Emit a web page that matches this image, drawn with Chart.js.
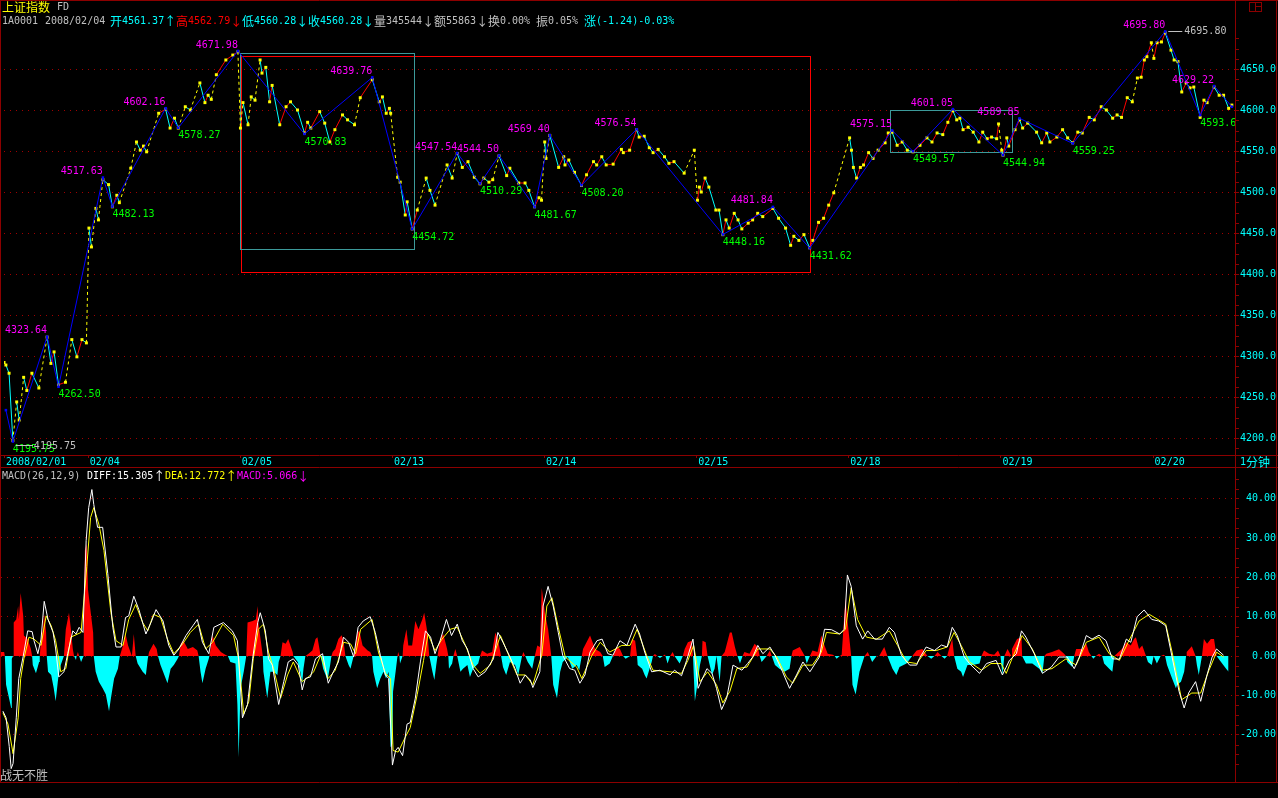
<!DOCTYPE html>
<html lang="zh-CN">
<head>
<meta charset="utf-8">
<title>上证指数 1分钟 FD / MACD</title>
<script src="https://cdn.jsdelivr.net/npm/chart.js@4.4.1/dist/chart.umd.min.js"></script>
<style>
  html, body { margin: 0; padding: 0; background: #000; overflow: hidden; }
  #stage { position: relative; width: 1278px; height: 798px; background: #000; }
  canvas { position: absolute; left: 0; }
  #cMain { top: 0; }
  #cMacd { top: 468px; }
  .t { position: absolute; display: flex; align-items: center; height: 14px; white-space: pre;
       font: 10px "DejaVu Sans Mono", monospace; line-height: 12px; }
  .t.s { height: 13px; }
  .cjk { font-family: "Noto Sans CJK SC", sans-serif; font-size: 12px; line-height: 12px; }
  .gray { color: #c0c0c0; } .cyan { color: #00ffff; } .red { color: #ff0000; }
  .yel { color: #ffff00; } .wht { color: #ffffff; } .mag { color: #ff00ff; }
  #icon { position: absolute; left: 1249px; top: 2px; width: 11px; height: 8px; border: 1px solid #8c0000; }
  #icon:before { content: ""; position: absolute; left: 5px; top: 0; width: 1px; height: 8px; background: #8c0000; }
  #icon:after { content: ""; position: absolute; left: 5px; top: 3px; width: 6px; height: 1px; background: #8c0000; }
</style>
</head>
<body>
<div id="stage">
  <canvas id="cMain" width="1278" height="468"></canvas>
  <canvas id="cMacd" width="1278" height="330"></canvas>

  <!-- header -->
  <div class="t yel" style="left:2px;top:0px;"><span class="cjk">上证指数</span></div>
  <div class="t gray" style="left:57px;top:0px;">FD</div>
  <div class="t gray" style="left:2px;top:14px;">1A0001</div>
  <div class="t gray" style="left:45px;top:14px;">2008/02/04</div>
  <div class="t cyan" style="left:110px;top:14px;"><span class="cjk">开</span>4561.37<span class="cjk">↑</span></div>
  <div class="t red" style="left:176px;top:14px;"><span class="cjk">高</span>4562.79<span class="cjk">↓</span></div>
  <div class="t cyan" style="left:242px;top:14px;"><span class="cjk">低</span>4560.28<span class="cjk">↓</span></div>
  <div class="t cyan" style="left:308px;top:14px;"><span class="cjk">收</span>4560.28<span class="cjk">↓</span></div>
  <div class="t gray" style="left:374px;top:14px;"><span class="cjk">量</span>345544<span class="cjk">↓</span></div>
  <div class="t gray" style="left:434px;top:14px;"><span class="cjk">额</span>55863<span class="cjk">↓</span></div>
  <div class="t gray" style="left:488px;top:14px;"><span class="cjk">换</span>0.00%</div>
  <div class="t gray" style="left:536px;top:14px;"><span class="cjk">振</span>0.05%</div>
  <div class="t cyan" style="left:584px;top:14px;"><span class="cjk">涨</span>(-1.24)-0.03%</div>
  <div id="icon"></div>

  <div class="t s cyan" style="left:1240px;top:455px;">1<span class="cjk">分钟</span></div>

  <!-- MACD header -->
  <div class="t s gray" style="left:2px;top:469px;">MACD(26,12,9)</div>
  <div class="t s wht" style="left:87px;top:469px;">DIFF:15.305<span class="cjk">↑</span></div>
  <div class="t s yel" style="left:165px;top:469px;">DEA:12.772<span class="cjk">↑</span></div>
  <div class="t s mag" style="left:237px;top:469px;">MACD:5.066<span class="cjk">↓</span></div>

  <div class="t gray" style="left:0px;top:768px;"><span class="cjk">战无不胜</span></div>
</div>

<script>
// ---------------------------------------------------------
// data (x = 1-minute bar index, 240 bars per trading day)
// ---------------------------------------------------------
const T_MAX = 1942;
const dayStart = [0, 132, 372, 612, 852, 1092, 1332, 1572, 1812];
const dayLabel = ['2008/02/01', '02/04', '02/05', '02/13', '02/14', '02/15', '02/18', '02/19', '02/20'];

const priceTicks = [4200, 4250, 4300, 4350, 4400, 4450, 4500, 4550, 4600, 4650];
const macdTicks = [-20, -10, 0, 10, 20, 30, 40];

// FD price line
const priceT = [0,3,8,14,20,24,31,36,44,55,68,74,79,86,97,107,115,123,130,134,
  138,145,149,156,165,171,178,182,200,209,215,220,225,244,255,262,269,275,286,294,
  309,317,322,327,335,350,361,369,373,377,385,390,396,404,407,413,419,423,435,445,
  452,463,474,479,484,498,506,514,522,534,542,553,562,581,592,597,603,608,610,621,
  625,633,636,644,652,666,672,680,699,707,715,723,732,742,751,757,765,771,781,793,
  798,812,822,828,837,844,848,853,855,861,875,883,885,891,900,911,919,930,935,943,
  950,961,974,977,987,998,1002,1010,1018,1024,1032,1042,1049,1057,1073,1089,1094,1097,1100,1106,
  1112,1123,1128,1134,1139,1144,1152,1158,1164,1174,1181,1189,1197,1213,1222,1233,1241,1246,1254,1262,
  1271,1276,1285,1293,1301,1309,1334,1337,1340,1345,1351,1356,1364,1371,1379,1390,1395,1401,1409,1417,
  1425,1434,1445,1456,1464,1472,1481,1489,1497,1503,1508,1513,1521,1529,1538,1544,1551,1558,1566,1569,
  1574,1576,1582,1585,1595,1602,1607,1615,1629,1637,1645,1650,1661,1670,1678,1686,1694,1701,1712,1720,
  1731,1739,1749,1756,1763,1772,1780,1788,1794,1799,1803,1810,1814,1819,1826,1832,1841,1846,1852,1858,
  1865,1871,1877,1887,1893,1898,1909,1917,1924,1932,1937];
const priceV = [4292,4289,4279,4197,4244,4222,4274,4258,4279,4261,4323,4291,4305,4265,4268,4320,4299,4320,4316,4456,
  4433,4480,4466,4515,4509,4482,4496,4487,4529,4561,4551,4556,4549,4596,4601,4578,4590,4578,4604,4600,
  4633,4609,4618,4613,4643,4661,4667,4671,4578,4609,4582,4616,4612,4661,4645,4652,4610,4630,4582,4604,
  4610,4600,4572,4585,4578,4598,4584,4561,4576,4594,4588,4582,4615,4637,4610,4616,4596,4602,4596,4518,
  4512,4472,4488,4455,4478,4517,4502,4484,4533,4517,4547,4530,4537,4518,4510,4517,4512,4515,4544,4520,
  4529,4511,4511,4502,4482,4493,4490,4561,4541,4569,4530,4543,4533,4539,4524,4508,4521,4537,4533,4543,
  4533,4534,4552,4548,4551,4576,4567,4568,4554,4548,4552,4543,4535,4537,4523,4551,4490,4506,4500,4517,
  4506,4478,4478,4448,4466,4456,4474,4466,4455,4462,4466,4474,4470,4480,4468,4456,4435,4446,4441,4448,
  4432,4441,4463,4468,4484,4499,4566,4551,4530,4517,4530,4533,4548,4541,4551,4560,4572,4573,4557,4561,
  4551,4549,4557,4566,4561,4572,4570,4585,4599,4588,4590,4576,4579,4573,4561,4573,4565,4567,4565,4583,
  4551,4545,4566,4556,4576,4588,4578,4584,4573,4560,4572,4561,4567,4576,4566,4560,4573,4572,4591,4588,
  4604,4600,4590,4594,4591,4615,4610,4639,4640,4661,4665,4682,4663,4682,4683,4694,4673,4661,4659,4622,
  4633,4627,4628,4591,4612,4609,4628,4618,4618,4602,4606];

// zigzag turning points
const zigT = [3,14,68,86,156,171,255,275,369,474,581,644,715,751,781,837,861,911,998,1134,
  1213,1271,1401,1434,1497,1576,1602,1686,1832,1887,1909,1937];
const zigV = [4234,4195.75,4323.64,4262.50,4517.63,4482.13,4602.16,4578.27,4671.98,4570.83,
  4639.76,4454.72,4547.54,4510.29,4544.50,4481.67,4569.40,4508.20,4576.54,4448.16,
  4481.84,4431.62,4575.15,4549.57,4601.05,4544.94,4589.85,4559.25,4695.80,4593.63,4629.22,4604];

// drawn boxes (time range, price range)
const boxFrom = [374, 372, 1397];
const boxTo = [1271, 647, 1590];
const boxHigh = [4665.8, 4669.5, 4600.0];
const boxLow = [4402.4, 4430.5, 4548.8];

// MACD(26,12,9)
const diffLine = [[3,-14],[8,-15.7],[13,-23],[16,-28.6],[19,-27.3],[24,-15.7],[28,-5.7],[35,0],[42,6.4],[49,6.2],
  [52,3.9],[58,0.6],[63,4.3],[68,13.9],[74,9.3],[82,6],[86,1.8],[91,-5.3],[99,-4],[105,0.6],
  [113,6.4],[118,5.6],[123,7.3],[129,6],[134,29.3],[138,37.7],[143,42.3],[146,38.5],[152,32.7],[160,32.7],
  [168,21],[176,7.3],[181,2.3],[189,2.3],[196,9.8],[201,10.2],[209,15.2],[217,11.8],[228,5.6],[236,8.5],
  [244,11.8],[255,8.9],[264,2.7],[272,0.2],[280,1.8],[291,5.2],[302,7.7],[309,9.3],[317,3.5],[327,0.6],
  [335,7.3],[350,8.5],[364,6.4],[372,3.9],[380,-15.7],[388,-12.3],[396,-0.7],[404,8.5],[408,11],[416,6.4],
  [421,-0.7],[427,-2.3],[437,-12.3],[445,-6.5],[452,-1.5],[460,-0.7],[468,-2.3],[474,-8.6],[479,-5.7],[487,-5.3],
  [495,-0.7],[506,0.6],[515,-6.9],[523,-4],[531,-1.5],[539,4.8],[547,3.5],[555,-0.25],[562,7.3],[570,8.9],
  [581,10],[589,6],[597,0.2],[605,-4.8],[610,-5.7],[616,-27.7],[621,-24],[625,-23.2],[632,-25.3],[639,-17.3],
  [644,-16.9],[652,-10.7],[660,-1.5],[668,6.4],[676,4.8],[683,0.6],[691,3.9],[701,9.3],[709,5.2],[718,8.1],
  [726,3.9],[734,1.8],[743,-3.2],[751,-5.3],[762,-4],[775,-0.7],[782,6],[790,3.5],[801,-0.25],[809,-3.2],
  [817,-6.9],[825,-4.8],[833,-6.1],[837,-8],[848,-4],[853,12.7],[861,17.7],[869,12.7],[877,6],[884,0.2],
  [895,-3.2],[903,-3.6],[911,-6.9],[919,-4.8],[927,1],[938,3.9],[946,4.3],[955,0.6],[963,0.2],[974,3.9],
  [985,2.7],[998,8.1],[1005,5.6],[1013,1],[1024,-4],[1037,-3.6],[1053,-4.8],[1060,-3.6],[1071,-5],[1079,-1.1],
  [1089,4.3],[1097,-8.2],[1111,-3.2],[1119,-4.4],[1126,-8.2],[1134,-13.6],[1142,-10.7],[1152,-2.3],[1166,-3.6],[1175,-1.9],
  [1183,-0.25],[1191,2.7],[1199,0.6],[1210,2.3],[1218,0.2],[1230,-4],[1241,-8.2],[1252,-4.8],[1262,-1.5],[1273,-4],
  [1288,-0.25],[1296,6.8],[1307,6.7],[1320,5.6],[1327,6.8],[1332,20.6],[1338,17.7],[1346,7.7],[1356,4.3],[1364,6.4],
  [1375,4.3],[1387,4.3],[1398,7.3],[1406,6],[1417,0.2],[1430,-2.3],[1441,-2.3],[1445,-0.7],[1456,2.3],[1469,1.4],
  [1480,2.8],[1489,2.3],[1497,7.3],[1505,5.2],[1516,-0.25],[1524,-1.9],[1540,-4.4],[1551,-1.9],[1566,-1.1],[1576,-4.8],
  [1587,-1.1],[1598,0.6],[1606,6.4],[1613,4.8],[1626,0.6],[1639,-4.4],[1653,-2.8],[1665,-0.25],[1678,-0.25],[1689,-3.2],
  [1697,-0.25],[1708,5.2],[1717,4.3],[1728,5.3],[1739,3.9],[1749,-0.7],[1760,-0.8],[1771,4.3],[1778,3.5],[1788,10],
  [1799,11.7],[1811,9.3],[1822,8.9],[1833,7.7],[1843,-0.25],[1854,-9],[1862,-13.2],[1869,-9.4],[1880,-6.5],[1888,-11.5],
  [1898,-4.8],[1906,-0.25],[1913,1.8],[1924,0.2]];

const deaLine = [[3,-14.4],[11,-17.3],[19,-24.8],[27,-15.7],[31,-5.7],[36,-0.7],[44,4.8],[52,4.3],[63,2.7],[71,10.2],
  [79,7.7],[86,3.9],[94,-4],[102,-3.2],[110,4.8],[126,6],[135,22.7],[141,35.2],[146,37.7],[154,33.5],
  [162,26.8],[173,11],[181,3.9],[192,2.7],[201,9.3],[212,13.1],[223,8.5],[231,6.4],[240,10.6],[251,9.8],
  [262,4.3],[272,0.6],[286,3.1],[298,6],[311,8.1],[322,1.8],[333,3.5],[349,8.1],[366,5.2],[374,-0.7],
  [382,-14.8],[390,-11.5],[397,-0.7],[405,6.8],[413,8.1],[421,1],[429,-3.2],[440,-10.7],[451,-4.8],[460,-1.5],
  [474,-6.5],[484,-5.3],[492,-4],[503,0.2],[515,-5.7],[526,-3.6],[539,3.5],[550,3.1],[558,0.6],[566,6.8],
  [584,9.3],[594,1],[605,-4.4],[613,-5.7],[617,-24],[625,-24.4],[636,-20.7],[644,-18.2],[655,-9.8],[665,-1.1],
  [672,5.6],[683,1.4],[694,4.3],[707,6.8],[718,7.3],[731,2.7],[743,-2.3],[754,-4.4],[770,-2.3],[786,5.2],
  [798,0.6],[812,-4.8],[825,-4.8],[837,-7.3],[851,0.2],[859,12.7],[867,14.8],[877,7.3],[888,-0.25],[906,-2.8],
  [914,-5.7],[930,0.2],[943,3.5],[958,1],[977,2.7],[990,2.7],[1001,6.8],[1016,0.2],[1026,-3.6],[1053,-4],
  [1071,-4.4],[1081,-1.1],[1090,2.7],[1100,-6.5],[1112,-4],[1126,-7.3],[1136,-11.9],[1147,-9],[1158,-3.2],[1174,-2.8],
  [1191,1.8],[1210,1.8],[1221,-0.25],[1236,-5.3],[1246,-6.9],[1262,-2.3],[1277,-2.3],[1291,1],[1299,6],[1320,5.6],
  [1329,6.8],[1338,17.3],[1348,9.3],[1362,4.8],[1378,4.3],[1398,6.4],[1411,2.7],[1425,-1.5],[1441,-1.9],[1456,1.4],
  [1472,1.4],[1489,2.3],[1500,6],[1511,2.7],[1524,-1.5],[1543,-3.6],[1558,-1.9],[1574,-1.9],[1582,-4.4],[1591,-0.7],
  [1607,5.2],[1623,1.8],[1639,-3.6],[1654,-3.2],[1676,-0.7],[1692,-2.3],[1708,3.5],[1728,4.8],[1744,0.6],[1760,-1.1],
  [1775,3.9],[1791,8.9],[1807,10.6],[1833,8.1],[1843,1],[1858,-11.1],[1874,-9.4],[1888,-9.4],[1901,-3.6],[1913,1],
  [1924,-0.25]];

const macdHist = [[0,1],[5,1],[6,0],[8,-7.3],[13,-11],[16,-13.2],[17,-0.7],[19,0],[20,8.5],[24,9.3],
  [27,12.7],[28,9.3],[31,16],[35,10.2],[36,5.2],[42,4.3],[47,1.8],[49,0],[50,-2.3],[55,-4.4],
  [60,-1.5],[61,0],[63,4.3],[66,6.8],[68,10.6],[71,6],[72,0],[74,-4],[79,-4.8],[83,-8.2],
  [86,-11.5],[90,-5.7],[94,-2.3],[99,0],[102,6.8],[107,11],[110,6.8],[113,1.8],[115,0],[118,-1],
  [119,0],[121,1],[123,0],[126,-1.5],[130,0],[132,26.8],[135,28.5],[137,16.8],[140,12.7],[145,6],
  [146,0],[149,-4],[154,-6.5],[160,-8.2],[165,-9.8],[170,-14],[173,-10.7],[178,-5.7],[184,-3.2],[187,0],
  [192,2.7],[196,5.6],[200,2.7],[206,0],[209,5.6],[212,0],[215,-1.9],[223,-4],[228,-4.8],[231,-0.7],
  [233,1],[240,3.1],[245,1.8],[247,0],[251,-2.3],[256,-4.4],[262,-6.9],[267,-3.2],[272,-2.3],[278,-0.7],
  [280,0],[283,3.1],[287,3.9],[294,1.8],[302,2.3],[309,1.4],[311,0],[314,-4],[317,-6.9],[322,-3.2],
  [327,-0.7],[328,0],[333,5.2],[338,2.7],[346,1],[353,0.3],[357,0],[361,-1.5],[369,-1.9],[372,-12.3],
  [374,-25.7],[377,-8.2],[382,-4],[386,0],[388,8.5],[396,8.9],[401,9.3],[404,12.7],[405,8.5],[412,0],
  [413,-4],[419,-10.7],[424,-4],[429,-4],[435,-4.8],[437,-1.5],[440,0],[443,3.5],[448,3.1],[452,4.3],
  [459,1],[460,0],[467,-1.5],[471,-4],[474,-6.9],[476,-3.2],[479,0],[484,0.6],[490,1.4],[495,4.3],
  [498,4.8],[501,2],[503,0],[507,-3.2],[514,-6.1],[518,-2.3],[520,0],[522,1],[526,1.8],[531,4.3],
  [536,5.3],[539,3.9],[542,0],[547,-2.3],[550,-3.2],[555,0],[561,6],[564,6.4],[569,2.7],[577,1.4],
  [581,1],[584,0],[586,-4],[592,-8.2],[597,-5.7],[602,-4],[606,-5.7],[610,-4],[613,-23.2],[616,-22.3],
  [617,-9],[621,-4],[624,0],[625,1],[627,0],[628,-1.9],[632,0],[633,2.7],[638,6.8],[641,2.7],
  [647,2.7],[652,8.9],[657,6.8],[663,9.3],[666,11],[671,6],[674,0],[679,-4],[682,-6.1],[685,-2.3],
  [687,0],[691,4.3],[696,5.6],[702,1.8],[704,0],[705,-3.2],[710,-1.9],[712,0],[715,1.8],[718,0],
  [723,-4],[727,-3.2],[734,-2.3],[738,-5.3],[743,-3.2],[751,-1.9],[754,0],[757,1.4],[765,0.6],[773,1],
  [778,6],[782,4.3],[787,0],[790,-2.8],[795,-4.8],[801,-1.5],[809,-2.3],[814,-4.8],[820,0],[822,1],
  [825,0],[829,-1.5],[836,-3.2],[840,0],[844,2.7],[848,2.3],[851,17.3],[856,11],[861,6.8],[866,0],
  [869,-7.3],[875,-10.7],[880,-4],[884,-1.5],[892,-0.25],[899,-3.2],[906,-2.3],[910,-3.6],[914,0],[916,1.8],
  [927,5.2],[935,1.8],[943,1],[947,0],[950,-2.8],[958,-1.9],[963,0],[969,2.3],[974,1.8],[979,0],
  [983,-0.7],[990,0],[993,4.3],[998,3.9],[1001,0],[1002,-2.3],[1009,-3.2],[1013,-4.8],[1016,-5.7],[1024,-1.5],
  [1026,0],[1029,0.5],[1037,-0.5],[1045,0.4],[1049,-1.9],[1053,0],[1057,1],[1060,0],[1068,-1.9],[1073,0],
  [1076,1.8],[1081,3.5],[1087,3.9],[1089,0],[1092,-11.5],[1095,-8.2],[1100,-2.3],[1103,0],[1104,3.9],[1109,3.5],
  [1112,0],[1119,-4.8],[1123,-3.2],[1126,0],[1131,-6.5],[1134,0],[1139,1],[1147,6],[1150,6],[1155,2.3],
  [1159,0],[1163,-1.9],[1167,0],[1170,1],[1178,0.6],[1186,3.1],[1191,2.3],[1194,0],[1197,-1.5],[1205,0],
  [1210,1.4],[1213,0],[1218,-2.3],[1225,-3.2],[1233,-4],[1241,-3.2],[1244,0],[1246,1.4],[1257,2.3],[1265,0],
  [1268,-1.9],[1273,0],[1277,1.4],[1285,1],[1291,5.2],[1296,2.7],[1301,0.6],[1309,0.3],[1312,0],[1315,-0.7],
  [1320,0],[1323,0.3],[1329,14.8],[1332,9.3],[1338,0],[1340,-7.3],[1345,-9.8],[1351,-4],[1359,0],[1364,1],
  [1367,0],[1371,-1.5],[1378,0],[1382,0],[1390,2.3],[1395,0],[1403,-3.2],[1409,-4.8],[1414,-2.8],[1425,-1.9],
  [1434,0],[1441,1.4],[1450,1.8],[1458,0],[1464,-0.7],[1469,0],[1474,1],[1480,0],[1485,-0.7],[1489,0],
  [1492,1.8],[1497,4.3],[1500,0],[1505,-3.2],[1511,-4],[1514,-5.3],[1521,-2.3],[1529,-2.3],[1540,-1.9],[1543,0],
  [1547,1.4],[1555,0.6],[1563,0.3],[1569,1.4],[1573,0],[1576,-4.8],[1579,0],[1584,1.8],[1590,0],[1591,1.8],
  [1599,4.3],[1606,4.8],[1607,0],[1613,-1.9],[1623,-1.9],[1634,-3.2],[1639,-4.4],[1642,0],[1645,0.6],[1654,1],
  [1665,1.7],[1673,0.6],[1676,0],[1678,-1.5],[1686,-2.8],[1689,0],[1692,1.8],[1701,1.8],[1708,3.1],[1712,1],
  [1716,0],[1719,-0.7],[1723,0],[1728,0.6],[1733,0],[1736,-1.9],[1744,-3.2],[1749,-4],[1752,0],[1764,1.8],
  [1771,3.5],[1778,2.7],[1783,4.3],[1786,4.8],[1791,1.8],[1796,2.7],[1802,0],[1805,-1.5],[1811,-2.3],[1814,0],
  [1819,-1.9],[1825,0],[1830,0.3],[1832,0],[1835,-2.3],[1843,-5.7],[1849,-8.2],[1851,-7.3],[1857,-6.5],[1862,-4],
  [1865,0],[1866,1],[1874,2.5],[1880,0],[1882,-2.3],[1885,-4.8],[1890,0],[1893,4.3],[1898,3.1],[1904,4.3],
  [1909,4.3],[1913,0],[1920,-1.5],[1928,-3.2],[1932,-4]];

// ---------------------------------------------------------
// style
// ---------------------------------------------------------
const C = {
  frame: '#8c0000', grid: '#a00000', cyan: '#00ffff', red: '#ff0000', yellow: '#ffff00',
  blue: '#0000ff', magenta: '#ff00ff', green: '#00ff00', gray: '#c0c0c0', teal: '#3c9a9a', white: '#ffffff'
};
const MONO = '"DejaVu Sans Mono", "Liberation Mono", monospace';
const zip = (ts, vs) => ts.map((t, i) => ({ x: t, y: vs[i] }));
const pairs = arr => arr.map(p => ({ x: p[0], y: p[1] }));

function hline(ctx, x0, x1, y) { ctx.beginPath(); ctx.moveTo(x0, y); ctx.lineTo(x1, y); ctx.stroke(); }
function vline(ctx, x, y0, y1) { ctx.beginPath(); ctx.moveTo(x, y0); ctx.lineTo(x, y1); ctx.stroke(); }

function crossesDay(c) {
  const a = c.p0.parsed.x, b = c.p1.parsed.x;
  return dayStart.some(d => d > 0 && a < d && b >= d);
}
function isJump(c) {
  return crossesDay(c) || (c.p1.parsed.y - c.p0.parsed.y) > 25;
}

function minorTicks(ctx, scale, x, step, from, to, major) {
  ctx.strokeStyle = C.frame;
  for (let v = from; v <= to; v += step) {
    if (Math.abs(v / major - Math.round(v / major)) < 1e-6) continue;
    const y = Math.round(scale.getPixelForValue(v)) + 0.5;
    hline(ctx, x, x + 3, y);
  }
}

// ---------------------------------------------------------
// decorations for the price panel
// ---------------------------------------------------------
const mainDecor = {
  id: 'mainDecor',
  beforeDatasetsDraw(chart) {
    const { ctx, scales: { x, y } } = chart;
    ctx.save();
    ctx.lineWidth = 1;
    boxFrom.forEach((t0, i) => {
      const x0 = Math.round(x.getPixelForValue(t0)) + 0.5, x1 = Math.round(x.getPixelForValue(boxTo[i])) + 0.5;
      const y0 = Math.round(y.getPixelForValue(boxHigh[i])) + 0.5, y1 = Math.round(y.getPixelForValue(boxLow[i])) + 0.5;
      ctx.strokeStyle = i === 0 ? C.red : C.teal;
      ctx.strokeRect(x0, y0, x1 - x0, y1 - y0);
    });
    ctx.restore();
  },
  afterDatasetsDraw(chart) {
    const { ctx, chartArea: a, scales: { x, y } } = chart;
    ctx.save();
    ctx.beginPath(); ctx.rect(a.left, 0, a.right - a.left, a.bottom); ctx.clip();
    ctx.font = '10px ' + MONO;
    for (let i = 1; i < zigT.length - 1; i++) {
      const px = x.getPixelForValue(zigT[i]), py = y.getPixelForValue(zigV[i]);
      const txt = zigV[i].toFixed(2);
      if (zigV[i] > zigV[i - 1]) {
        ctx.fillStyle = C.magenta; ctx.textAlign = 'right'; ctx.textBaseline = 'bottom';
        ctx.fillText(txt, px, py - 1);
      } else {
        ctx.fillStyle = C.green; ctx.textAlign = 'left'; ctx.textBaseline = 'top';
        ctx.fillText(txt, px, py + 3);
      }
    }
    // extreme markers
    const hi = zigV.indexOf(Math.max(...zigV)), lo = zigV.indexOf(Math.min(...zigV));
    ctx.strokeStyle = C.gray; ctx.fillStyle = C.gray; ctx.lineWidth = 1;
    ctx.textAlign = 'left'; ctx.textBaseline = 'middle';
    let px = x.getPixelForValue(zigT[hi]), py = Math.round(y.getPixelForValue(zigV[hi])) + 0.5;
    hline(ctx, px + 3, px + 17, py); ctx.fillText(zigV[hi].toFixed(2), px + 19, py);
    px = x.getPixelForValue(zigT[lo]); py = Math.round(y.getPixelForValue(zigV[lo])) + 3.5;
    hline(ctx, px + 3, px + 20, py); ctx.fillText(zigV[lo].toFixed(2), px + 21, py + 1);
    ctx.restore();
  },
  afterDraw(chart) {
    const { ctx, chartArea: a, scales: { x, y }, width, height } = chart;
    ctx.save();
    ctx.strokeStyle = C.frame; ctx.lineWidth = 1;
    hline(ctx, 0, width, 0.5);
    vline(ctx, 0.5, 0, height);
    vline(ctx, width - 1.5, 0, height);
    vline(ctx, a.right + 0.5, 0, height);
    hline(ctx, 0, width, a.bottom + 0.5);
    hline(ctx, 0, width, height - 0.5);
    dayStart.forEach(d => { const px = Math.round(x.getPixelForValue(d)) + 0.5; vline(ctx, px, a.bottom, a.bottom + 3); });
    minorTicks(ctx, y, a.right + 1, 12.5, 4187.5, 4700, 50);
    ctx.restore();
  }
};

const macdDecor = {
  id: 'macdDecor',
  afterDraw(chart) {
    const { ctx, chartArea: a, scales: { y }, width } = chart;
    ctx.save();
    ctx.strokeStyle = C.frame; ctx.lineWidth = 1;
    vline(ctx, 0.5, 0, a.bottom);
    vline(ctx, width - 1.5, 0, a.bottom);
    vline(ctx, a.right + 0.5, 0, a.bottom);
    hline(ctx, 0, width, a.bottom + 0.5);
    minorTicks(ctx, y, a.right + 1, 2.5, -30, 45, 10);
    ctx.restore();
  }
};

function rightAxis(min, max, ticks, digits) {
  return {
    position: 'right', min: min, max: max,
    afterBuildTicks: s => { s.ticks = ticks.map(v => ({ value: v })); },
    afterFit: s => { s.width = 41; },
    ticks: { padding: 0, crossAlign: 'far', color: C.cyan, font: { family: MONO, size: 10 }, callback: v => v.toFixed(digits) },
    grid: { color: C.grid, lineWidth: 1, tickColor: C.frame, tickLength: 4 },
    border: { display: false, dash: [1, 5] }
  };
}

// ---------------------------------------------------------
// charts
// ---------------------------------------------------------
function createPriceChart(id) {
  new Chart(document.getElementById(id), {
    type: 'line',
    data: {
      datasets: [
        {
          label: 'zigzag', data: zip(zigT, zigV), order: 0,
          borderColor: C.blue, borderWidth: 1, tension: 0,
          pointRadius: 1.8, pointStyle: 'rect', pointBackgroundColor: C.blue, pointBorderWidth: 0
        },
        {
          label: 'FD', data: zip(priceT, priceV), order: 1,
          borderWidth: 1, tension: 0,
          pointRadius: 2.1, pointStyle: 'rect', pointBackgroundColor: C.yellow, pointBorderWidth: 0,
          segment: {
            borderColor: c => isJump(c) ? C.yellow : (c.p1.parsed.y >= c.p0.parsed.y ? C.red : C.cyan),
            borderDash: c => isJump(c) ? [3, 3] : undefined
          }
        }
      ]
    },
    options: {
      responsive: false, animation: false, devicePixelRatio: 1, events: [],
      layout: { padding: { left: 1, right: 2, top: 28, bottom: 0 } },
      plugins: { legend: { display: false }, tooltip: { enabled: false } },
      scales: {
        x: {
          type: 'linear', min: 0, max: T_MAX,
          afterBuildTicks: s => { s.ticks = dayStart.map(v => ({ value: v })); },
          afterFit: s => { s.height = 13; },
          ticks: { autoSkip: false, maxRotation: 0, align: 'start', padding: 1, labelOffset: 2, color: C.cyan,
                   font: { family: MONO, size: 10 }, callback: (v, i) => dayLabel[i] },
          grid: { display: false, drawTicks: false }, border: { display: false }
        },
        y: rightAxis(4179.3, 4700, priceTicks, 1)
      }
    },
    plugins: [mainDecor]
  });
}

function createMacdChart(id) {
  new Chart(document.getElementById(id), {
    type: 'line',
    data: {
      datasets: [
        { label: 'DIFF', data: pairs(diffLine), order: 0, borderColor: C.white, borderWidth: 1, pointRadius: 0, tension: 0 },
        { label: 'DEA', data: pairs(deaLine), order: 1, borderColor: C.yellow, borderWidth: 1, pointRadius: 0, tension: 0 },
        {
          label: 'MACD', data: pairs(macdHist), order: 2,
          borderColor: 'rgba(0,0,0,0)', borderWidth: 1, pointRadius: 0, tension: 0,
          fill: { target: { value: 0 }, above: C.red, below: C.cyan }
        }
      ]
    },
    options: {
      responsive: false, animation: false, devicePixelRatio: 1, events: [],
      layout: { padding: { left: 1, right: 2, top: 1, bottom: 16 } },
      plugins: { legend: { display: false }, tooltip: { enabled: false } },
      scales: {
        x: { type: 'linear', min: 0, max: T_MAX, display: false },
        y: rightAxis(-32, 46.25, macdTicks, 2)
      }
    },
    plugins: [macdDecor]
  });
}

createPriceChart('cMain');
createMacdChart('cMacd');
</script>
</body>
</html>
